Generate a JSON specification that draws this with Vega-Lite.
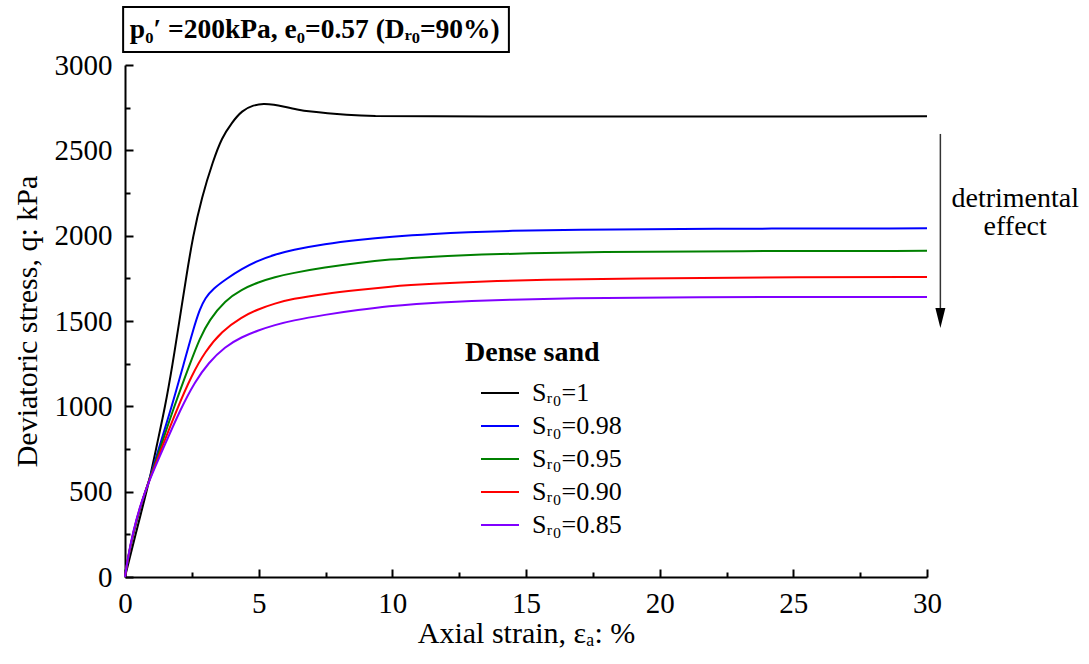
{
  "$schema": "https://vega.github.io/schema/vega-lite/v6.json",
  "width": 802,
  "height": 512,
  "autosize": {"type": "none"},
  "padding": {"left": 125, "top": 65, "right": 162, "bottom": 87},
  "background": "white",
  "config": {
    "view": {"stroke": null},
    "font": "Liberation Serif",
    "axis": {
      "domainColor": "black",
      "domainWidth": 2,
      "tickColor": "black",
      "tickWidth": 2,
      "labelColor": "black",
      "titleColor": "black",
      "labelFont": "Liberation Serif",
      "titleFont": "Liberation Serif",
      "labelFontSize": 29,
      "titleFontSize": 30,
      "titleFontWeight": "normal",
      "grid": false
    }
  },
  "datasets": {
    "curves": [
      {"s": "Sᵣ₀=1", "x": 0, "y": 0},
      {"s": "Sᵣ₀=1", "x": 0.3, "y": 190},
      {"s": "Sᵣ₀=1", "x": 0.6, "y": 375},
      {"s": "Sᵣ₀=1", "x": 0.92, "y": 570},
      {"s": "Sᵣ₀=1", "x": 1.2, "y": 780},
      {"s": "Sᵣ₀=1", "x": 1.5, "y": 996},
      {"s": "Sᵣ₀=1", "x": 1.78, "y": 1246},
      {"s": "Sᵣ₀=1", "x": 2.03, "y": 1496},
      {"s": "Sᵣ₀=1", "x": 2.28, "y": 1748},
      {"s": "Sᵣ₀=1", "x": 2.54, "y": 1996},
      {"s": "Sᵣ₀=1", "x": 2.87, "y": 2225},
      {"s": "Sᵣ₀=1", "x": 3.3, "y": 2441},
      {"s": "Sᵣ₀=1", "x": 3.62, "y": 2574},
      {"s": "Sᵣ₀=1", "x": 4.0, "y": 2663},
      {"s": "Sᵣ₀=1", "x": 4.37, "y": 2733},
      {"s": "Sᵣ₀=1", "x": 4.81, "y": 2766},
      {"s": "Sᵣ₀=1", "x": 5.19, "y": 2774},
      {"s": "Sᵣ₀=1", "x": 5.57, "y": 2768},
      {"s": "Sᵣ₀=1", "x": 5.94, "y": 2756},
      {"s": "Sᵣ₀=1", "x": 6.44, "y": 2739},
      {"s": "Sᵣ₀=1", "x": 6.95, "y": 2727},
      {"s": "Sᵣ₀=1", "x": 7.58, "y": 2717},
      {"s": "Sᵣ₀=1", "x": 8.2, "y": 2709},
      {"s": "Sᵣ₀=1", "x": 9.33, "y": 2700},
      {"s": "Sᵣ₀=1", "x": 10.7, "y": 2698},
      {"s": "Sᵣ₀=1", "x": 30, "y": 2699},

      {"s": "Sᵣ₀=0.98", "x": 0, "y": 0},
      {"s": "Sᵣ₀=0.98", "x": 0.1, "y": 100},
      {"s": "Sᵣ₀=0.98", "x": 0.3, "y": 250},
      {"s": "Sᵣ₀=0.98", "x": 0.6, "y": 425},
      {"s": "Sᵣ₀=0.98", "x": 0.92, "y": 575},
      {"s": "Sᵣ₀=0.98", "x": 1.3, "y": 770},
      {"s": "Sᵣ₀=0.98", "x": 1.75, "y": 1000},
      {"s": "Sᵣ₀=0.98", "x": 2.2, "y": 1250},
      {"s": "Sᵣ₀=0.98", "x": 2.56, "y": 1455},
      {"s": "Sᵣ₀=0.98", "x": 2.8, "y": 1570},
      {"s": "Sᵣ₀=0.98", "x": 3.0, "y": 1635},
      {"s": "Sᵣ₀=0.98", "x": 3.3, "y": 1690},
      {"s": "Sᵣ₀=0.98", "x": 3.8, "y": 1748},
      {"s": "Sᵣ₀=0.98", "x": 4.36, "y": 1805},
      {"s": "Sᵣ₀=0.98", "x": 4.99, "y": 1855},
      {"s": "Sᵣ₀=0.98", "x": 5.61, "y": 1889},
      {"s": "Sᵣ₀=0.98", "x": 6.23, "y": 1916},
      {"s": "Sᵣ₀=0.98", "x": 7.48, "y": 1952},
      {"s": "Sᵣ₀=0.98", "x": 8.73, "y": 1976},
      {"s": "Sᵣ₀=0.98", "x": 9.91, "y": 1994},
      {"s": "Sᵣ₀=0.98", "x": 11.65, "y": 2012},
      {"s": "Sᵣ₀=0.98", "x": 12.74, "y": 2020},
      {"s": "Sᵣ₀=0.98", "x": 14.42, "y": 2029},
      {"s": "Sᵣ₀=0.98", "x": 16.6, "y": 2035},
      {"s": "Sᵣ₀=0.98", "x": 21.5, "y": 2041},
      {"s": "Sᵣ₀=0.98", "x": 30, "y": 2043},

      {"s": "Sᵣ₀=0.95", "x": 0, "y": 0},
      {"s": "Sᵣ₀=0.95", "x": 0.1, "y": 102},
      {"s": "Sᵣ₀=0.95", "x": 0.3, "y": 255},
      {"s": "Sᵣ₀=0.95", "x": 0.6, "y": 428},
      {"s": "Sᵣ₀=0.95", "x": 0.92, "y": 573},
      {"s": "Sᵣ₀=0.95", "x": 1.33, "y": 760},
      {"s": "Sᵣ₀=0.95", "x": 1.83, "y": 996},
      {"s": "Sᵣ₀=0.95", "x": 2.43, "y": 1250},
      {"s": "Sᵣ₀=0.95", "x": 2.8, "y": 1400},
      {"s": "Sᵣ₀=0.95", "x": 3.15, "y": 1505},
      {"s": "Sᵣ₀=0.95", "x": 3.74, "y": 1620},
      {"s": "Sᵣ₀=0.95", "x": 4.36, "y": 1685},
      {"s": "Sᵣ₀=0.95", "x": 4.99, "y": 1728},
      {"s": "Sᵣ₀=0.95", "x": 5.61, "y": 1758},
      {"s": "Sᵣ₀=0.95", "x": 6.23, "y": 1780},
      {"s": "Sᵣ₀=0.95", "x": 7.48, "y": 1814},
      {"s": "Sᵣ₀=0.95", "x": 8.73, "y": 1841},
      {"s": "Sᵣ₀=0.95", "x": 9.91, "y": 1861},
      {"s": "Sᵣ₀=0.95", "x": 11.14, "y": 1873},
      {"s": "Sᵣ₀=0.95", "x": 12.0, "y": 1881},
      {"s": "Sᵣ₀=0.95", "x": 13.26, "y": 1889},
      {"s": "Sᵣ₀=0.95", "x": 15.06, "y": 1897},
      {"s": "Sᵣ₀=0.95", "x": 17.45, "y": 1904},
      {"s": "Sᵣ₀=0.95", "x": 22.79, "y": 1910},
      {"s": "Sᵣ₀=0.95", "x": 30, "y": 1911},

      {"s": "Sᵣ₀=0.90", "x": 0, "y": 0},
      {"s": "Sᵣ₀=0.90", "x": 0.1, "y": 104},
      {"s": "Sᵣ₀=0.90", "x": 0.3, "y": 260},
      {"s": "Sᵣ₀=0.90", "x": 0.6, "y": 432},
      {"s": "Sᵣ₀=0.90", "x": 0.92, "y": 572},
      {"s": "Sᵣ₀=0.90", "x": 1.37, "y": 755},
      {"s": "Sᵣ₀=0.90", "x": 1.96, "y": 990},
      {"s": "Sᵣ₀=0.90", "x": 2.49, "y": 1180},
      {"s": "Sᵣ₀=0.90", "x": 2.99, "y": 1320},
      {"s": "Sᵣ₀=0.90", "x": 3.62, "y": 1440},
      {"s": "Sᵣ₀=0.90", "x": 4.36, "y": 1523},
      {"s": "Sᵣ₀=0.90", "x": 4.99, "y": 1570},
      {"s": "Sᵣ₀=0.90", "x": 5.61, "y": 1603},
      {"s": "Sᵣ₀=0.90", "x": 6.23, "y": 1629},
      {"s": "Sᵣ₀=0.90", "x": 7.48, "y": 1660},
      {"s": "Sᵣ₀=0.90", "x": 8.73, "y": 1682},
      {"s": "Sᵣ₀=0.90", "x": 9.91, "y": 1701},
      {"s": "Sᵣ₀=0.90", "x": 10.69, "y": 1711},
      {"s": "Sᵣ₀=0.90", "x": 11.52, "y": 1719},
      {"s": "Sᵣ₀=0.90", "x": 12.49, "y": 1726},
      {"s": "Sᵣ₀=0.90", "x": 13.88, "y": 1734},
      {"s": "Sᵣ₀=0.90", "x": 15.52, "y": 1741},
      {"s": "Sᵣ₀=0.90", "x": 18.58, "y": 1750},
      {"s": "Sᵣ₀=0.90", "x": 25.6, "y": 1757},
      {"s": "Sᵣ₀=0.90", "x": 30, "y": 1758},

      {"s": "Sᵣ₀=0.85", "x": 0, "y": 0},
      {"s": "Sᵣ₀=0.85", "x": 0.1, "y": 108},
      {"s": "Sᵣ₀=0.85", "x": 0.3, "y": 266},
      {"s": "Sᵣ₀=0.85", "x": 0.6, "y": 436},
      {"s": "Sᵣ₀=0.85", "x": 0.92, "y": 570},
      {"s": "Sᵣ₀=0.85", "x": 1.42, "y": 750},
      {"s": "Sᵣ₀=0.85", "x": 2.08, "y": 985},
      {"s": "Sᵣ₀=0.85", "x": 2.62, "y": 1145},
      {"s": "Sᵣ₀=0.85", "x": 3.12, "y": 1255},
      {"s": "Sᵣ₀=0.85", "x": 3.74, "y": 1350},
      {"s": "Sᵣ₀=0.85", "x": 4.36, "y": 1406},
      {"s": "Sᵣ₀=0.85", "x": 4.99, "y": 1446},
      {"s": "Sᵣ₀=0.85", "x": 5.61, "y": 1477},
      {"s": "Sᵣ₀=0.85", "x": 6.23, "y": 1502},
      {"s": "Sᵣ₀=0.85", "x": 7.48, "y": 1537},
      {"s": "Sᵣ₀=0.85", "x": 8.73, "y": 1565},
      {"s": "Sᵣ₀=0.85", "x": 9.91, "y": 1588},
      {"s": "Sᵣ₀=0.85", "x": 10.94, "y": 1601},
      {"s": "Sᵣ₀=0.85", "x": 11.75, "y": 1609},
      {"s": "Sᵣ₀=0.85", "x": 12.94, "y": 1617},
      {"s": "Sᵣ₀=0.85", "x": 14.32, "y": 1625},
      {"s": "Sᵣ₀=0.85", "x": 16.55, "y": 1633},
      {"s": "Sᵣ₀=0.85", "x": 20.6, "y": 1640},
      {"s": "Sᵣ₀=0.85", "x": 30, "y": 1641}
    ]
  },
  "layer": [
    {
      "data": {"name": "curves"},
      "mark": {"type": "line", "strokeWidth": 2, "interpolate": "basis"},
      "encoding": {
        "x": {
          "field": "x",
          "type": "quantitative",
          "scale": {"domain": [0, 30], "nice": false, "zero": false},
          "axis": {
            "title": "Axial strain, εₐ: %",
            "values": [0, 2.5, 5, 7.5, 10, 12.5, 15, 17.5, 20, 22.5, 25, 27.5, 30],
            "labelExpr": "datum.value % 5 === 0 ? datum.label : ''",
            "tickSize": {"condition": {"test": "datum.value % 5 === 0", "value": -8}, "value": -5},
            "labelPadding": 20,
            "titlePadding": -3,
            "labelFlush": false,
            "labelOverlap": false
          }
        },
        "y": {
          "field": "y",
          "type": "quantitative",
          "scale": {"domain": [0, 3000], "nice": false, "zero": false},
          "axis": {
            "title": "Deviatoric stress, q: kPa",
            "values": [0, 250, 500, 750, 1000, 1250, 1500, 1750, 2000, 2250, 2500, 2750, 3000],
            "labelExpr": "datum.value % 500 === 0 ? datum.label : ''",
            "format": "d",
            "tickSize": {"condition": {"test": "datum.value % 500 === 0", "value": -8}, "value": -5},
            "labelPadding": 21,
            "titlePadding": 12,
            "labelFlush": false,
            "labelOverlap": false
          }
        },
        "color": {
          "field": "s",
          "type": "nominal",
          "sort": ["Sᵣ₀=1", "Sᵣ₀=0.98", "Sᵣ₀=0.95", "Sᵣ₀=0.90", "Sᵣ₀=0.85"],
          "scale": {
            "domain": ["Sᵣ₀=1", "Sᵣ₀=0.98", "Sᵣ₀=0.95", "Sᵣ₀=0.90", "Sᵣ₀=0.85"],
            "range": ["#000000", "#0000ff", "#008000", "#ff0000", "#8000ff"]
          },
          "legend": {
            "title": "Dense sand",
            "orient": "none",
            "legendX": 340,
            "legendY": 274,
            "titleFont": "Liberation Serif",
            "titleFontSize": 28,
            "titleFontWeight": "bold",
            "titleColor": "black",
            "titlePadding": 6,
            "labelFont": "Liberation Serif",
            "labelFontSize": 26,
            "labelColor": "black",
            "labelLimit": 300,
            "labelOffset": 12,
            "symbolType": "stroke",
            "symbolSize": 1444,
            "symbolStrokeWidth": 2,
            "symbolOffset": 15,
            "rowPadding": -2.3
          }
        }
      }
    },
    {
      "data": {"values": [{}]},
      "mark": {"type": "rect", "fill": "white", "stroke": "black", "strokeWidth": 2},
      "encoding": {
        "x": {"datum": -0.07, "type": "quantitative"},
        "x2": {"datum": 14.36},
        "y": {"datum": 3076, "type": "quantitative"},
        "y2": {"datum": 3340}
      }
    },
    {
      "data": {"values": [{}]},
      "mark": {"type": "text", "font": "Liberation Serif", "fontSize": 27.5, "fontWeight": "bold", "align": "center", "baseline": "middle", "color": "black"},
      "encoding": {
        "x": {"datum": 7.1, "type": "quantitative"},
        "y": {"datum": 3206, "type": "quantitative"},
        "text": {"value": "p₀′ =200kPa, e₀=0.57 (Dᵣ₀=90%)"}
      }
    },
    {
      "data": {"values": [{}]},
      "mark": {"type": "rule", "color": "#333333", "strokeWidth": 1.5},
      "encoding": {
        "x": {"datum": 30.5, "type": "quantitative"},
        "y": {"datum": 2596, "type": "quantitative"},
        "y2": {"datum": 1500}
      }
    },
    {
      "data": {"values": [{}]},
      "mark": {"type": "point", "shape": "M-0.5,-1L0.5,-1L0,1Z", "size": 400, "filled": true, "color": "black", "opacity": 1},
      "encoding": {
        "x": {"datum": 30.5, "type": "quantitative"},
        "y": {"datum": 1517, "type": "quantitative"}
      }
    },
    {
      "data": {"values": [{}]},
      "mark": {"type": "text", "font": "Liberation Serif", "fontSize": 28, "lineHeight": 28, "align": "center", "baseline": "middle", "color": "black"},
      "encoding": {
        "x": {"datum": 33.3, "type": "quantitative"},
        "y": {"datum": 2215, "type": "quantitative"},
        "text": {"value": ["detrimental", "effect"]}
      }
    }
  ]
}
